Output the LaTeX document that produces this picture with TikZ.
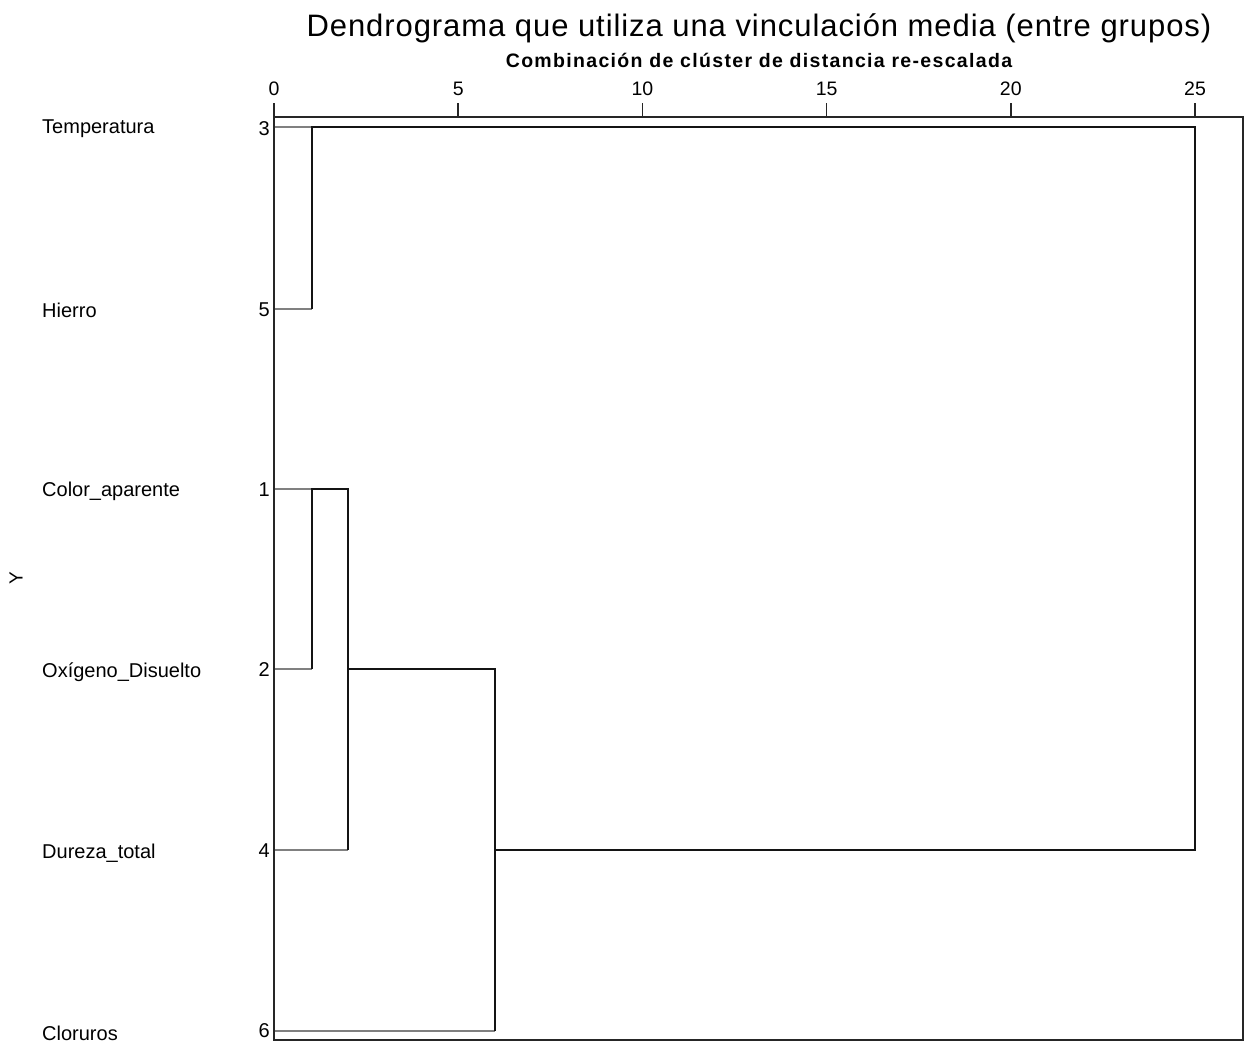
\documentclass[tikz,border=0pt]{standalone}
\usepackage{fontspec}
\setmainfont{Liberation Sans}
\newfontfamily\titlefont[LetterSpace=3]{Liberation Sans}
\newfontfamily\subfont[LetterSpace=6.8]{Liberation Sans}
\begin{document}
\begin{tikzpicture}[x=1pt,y=-1pt,
  leaf/.style={draw=black!50,line width=2pt},
  merge/.style={draw=black!92,line width=2.4pt},
  frame/.style={draw=black!85,line width=1.5pt},
  lbl/.style={font=\fontsize{20}{22}\selectfont,anchor=west,inner sep=0pt},
  num/.style={font=\fontsize{20}{22}\selectfont,anchor=east,inner sep=0pt},
  tick/.style={font=\fontsize{19.5}{21}\selectfont,inner sep=0pt}]
\useasboundingbox (0,0) rectangle (1250,1042);
% frame
\draw[frame] (274,117) rectangle (1243,1040);
% ticks
\foreach \k in {0,5,10,15,20,25}{
  \pgfmathsetmacro\xx{274+36.84*\k}
  \draw[frame] (\xx,103) -- (\xx,117);
  \node[tick] (t\k) at (\xx,89) {\k};
}
% titles
\node[inner sep=0pt,font=\titlefont\fontsize{31}{34}\selectfont] (title) at (759,28) {Dendrograma que utiliza una vinculación media (entre grupos)};
\node[inner sep=0pt,font=\subfont\bfseries\fontsize{19.5}{21}\selectfont] (sub) at (759,60) {Combinación de clúster de distancia re-escalada};
\node[inner sep=0pt,rotate=90,font=\fontsize{19}{21}\selectfont] (ylab) at (16,578) {Y};
% labels
\node[lbl] (n3) at (42,129) {Temperatura};
\node[lbl] (n5) at (42,310) {Hierro};
\node[lbl] (n1) at (42,491) {Color\_aparente};
\node[lbl] (n2) at (42,672) {Oxígeno\_Disuelto};
\node[lbl] (n4) at (42,853) {Dureza\_total};
\node[lbl] (n6) at (42,1033) {Cloruros};
\node[num] (i3) at (270,129) {3};
\node[num] (i5) at (270,310) {5};
\node[num] (i1) at (270,490) {1};
\node[num] (i2) at (270,670) {2};
\node[num] (i4) at (270,851) {4};
\node[num] (i6) at (270,1031) {6};
% leaf coordinates
\coordinate (l3) at (275,127);
\coordinate (l5) at (275,309);
\coordinate (l1) at (275,489);
\coordinate (l2) at (275,669);
\coordinate (l4) at (275,850);
\coordinate (l6) at (275,1031);
% merge points
\coordinate (m35a) at (311.8,127);
\coordinate (m35b) at (311.8,309);
\coordinate (m12a) at (311.8,489);
\coordinate (m12b) at (311.8,669);
\coordinate (m124a) at (347.7,489);
\coordinate (m124b) at (347.7,850);
\coordinate (m1246a) at (495,669);
\coordinate (m1246b) at (495,1031);
\coordinate (ma) at (1195,127);
\coordinate (mb) at (1195,850);
% leaf lines
\draw[leaf] (l3) -- (m35a);
\draw[leaf] (l5) -- (m35b);
\draw[leaf] (l1) -- (m12a);
\draw[leaf] (l2) -- (m12b);
\draw[leaf] (l4) -- (m124b);
\draw[leaf] (l6) -- (m1246b);
% merges
\draw[merge] (m35b) -- (m35a) -- (ma) -- (mb) -- (495,850);
\draw[merge] (m12b) -- (m12a) -- (m124a) -- (m124b);
\draw[merge] (347.7,669) -- (m1246a) -- (m1246b);
\end{tikzpicture}
\end{document}
